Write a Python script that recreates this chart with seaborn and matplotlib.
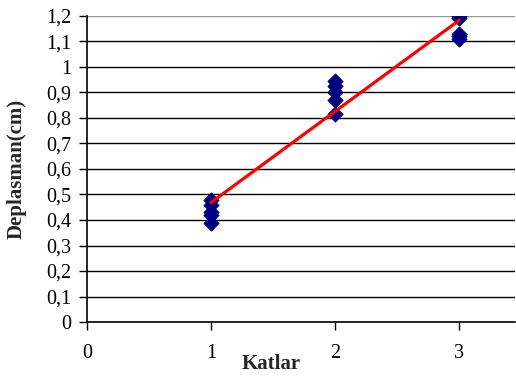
import pandas as pd
import matplotlib.pyplot as plt
import seaborn as sns
from matplotlib.ticker import FuncFormatter


# Values
katlar = [1, 1, 1, 1, 1, 2, 2, 2, 2, 2, 3, 3, 3, 3, 3]
deplasman = [0.48, 0.46, 0.43, 0.42, 0.39,
             0.945, 0.925, 0.90, 0.87, 0.815,
             1.20, 1.19, 1.13, 1.12, 1.11]
y_ticks = [i / 10 for i in range(13)]
x_ticks = [0, 1, 2, 3]


def comma_format(value, pos):
    text = ("%.1f" % value).rstrip("0").rstrip(".")
    return text.replace(".", ",")


def plot_deplasman(data):
    sns.set_style("white")
    plt.rcParams["font.family"] = ["Liberation Serif", "DejaVu Serif"]

    fig = plt.figure(figsize=(5.16, 3.78), dpi=100)
    ax = fig.add_axes([0.1686, 0.148, 0.8294, 0.81])

    for v in y_ticks[1:]:
        ax.axhline(v, color="black" if v < 1.15 else "#999999", lw=1, zorder=1)

    sns.scatterplot(x="Katlar", y="Deplasman", data=data, marker="D", s=60,
                    color="#000080", edgecolor="#000080", ax=ax, zorder=3)
    sns.regplot(x="Katlar", y="Deplasman", data=data, ci=None, scatter=False,
                truncate=True, line_kws={"color": "red", "lw": 2.3, "zorder": 4}, ax=ax)

    ax.set_xlim(0, 3.45)
    ax.set_ylim(0, 1.2)
    ax.set_xticks(x_ticks)
    ax.set_yticks(y_ticks)
    ax.yaxis.set_major_formatter(FuncFormatter(comma_format))
    ax.tick_params(axis="both", direction="out", length=6, width=1, colors="black",
                   labelsize=14.5, left=True, bottom=True)
    ax.tick_params(axis="x", pad=10)
    ax.tick_params(axis="y", pad=5)

    for side in ["top", "right"]:
        ax.spines[side].set_visible(False)
    for side in ["left", "bottom"]:
        ax.spines[side].set_color("black")
        ax.spines[side].set_linewidth(1.2)

    ax.set_xlabel("Katlar", fontsize=15, fontweight="bold")
    ax.xaxis.set_label_coords(0.43, -0.105)
    ax.set_ylabel("Deplasman(cm)", fontsize=15, fontweight="bold")
    ax.yaxis.set_label_coords(-0.14, 0.5)

    fig.savefig("out.png", dpi=100)


def main():
    data = pd.DataFrame({"Katlar": katlar, "Deplasman": deplasman})
    plot_deplasman(data)


if __name__ == "__main__":
    main()
